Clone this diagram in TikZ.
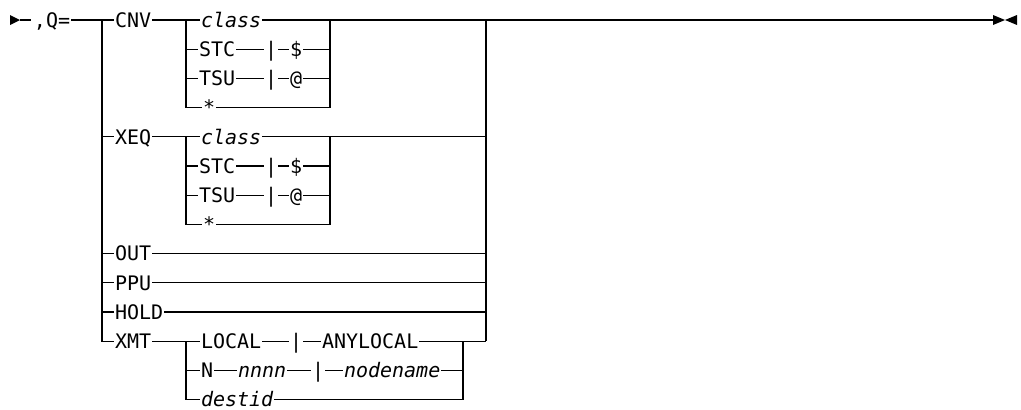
\documentclass[tikz,border=0pt]{standalone}
\usepackage{fontspec}
\newfontfamily\rrfont{DejaVu Sans Mono}[ItalicFont={DejaVu Sans Mono Oblique}]
\begin{document}
\begin{tikzpicture}[x=1pt,y=-1pt,line width=1.3pt,line join=miter,
  lbl/.style={font=\rrfont\fontsize{20}{24}\selectfont,anchor=west,inner xsep=1pt,inner ysep=0pt,text height=14.6pt,text depth=0pt,outer sep=0pt},
  ilbl/.style={lbl,font=\rrfont\fontsize{20}{24}\selectfont\itshape},
  tipfill/.style={fill=black,draw=none}]
\fill[white] (0,0) rectangle (1021,410);
\useasboundingbox (0,0) rectangle (1021,410);
% start
\fill[tipfill] (10,15) -- (20,20) -- (10,25) -- cycle;
\coordinate (s) at (20,20);
\coordinate (s2) at (31,20);
\node[lbl] (q) at (33,20) {,Q=};
\coordinate (L) at (102,20);
\coordinate (Lb) at (102,341.2);
\coordinate (R) at (486,20);
\coordinate (Rb) at (486,341.2);
\coordinate (E) at (993,20);
% main labels
\node[lbl] (cnv) at (114,20) {CNV};
\node[lbl] (xeq) at (114,136.8) {XEQ};
\node[lbl] (out) at (114,253.6) {OUT};
\node[lbl] (ppu) at (114,282.8) {PPU};
\node[lbl] (hold) at (114,312) {HOLD};
\node[lbl] (xmt) at (114,341.2) {XMT};
\draw (s) -- (s2);
\draw (q.east) -- (L);
\draw (L) -- (cnv.west);
\draw (L) -- (Lb) -- (xmt.west);
\foreach \n in {xeq,out,ppu,hold} \draw (L |- \n.west) -- (\n.west);
\foreach \n in {out,ppu,hold} \draw (\n.east) -- (R |- \n.east);
\draw (R) -- (Rb);
% CNV and XEQ sub-branches
\foreach \p/\o in {c/0,x/116.8}{
  \coordinate (\p J0) at (186,20+\o);
  \coordinate (\p J3) at (186,107.6+\o);
  \coordinate (\p K0) at (330,20+\o);
  \coordinate (\p K3) at (330,107.6+\o);
  \node[ilbl] (\p cls) at (200,20+\o) {class};
  \node[lbl] (\p stc) at (198,49.2+\o) {STC};
  \node[lbl] (\p ba) at (264,49.2+\o) {|};
  \node[lbl] (\p dol) at (289,49.2+\o) {\$};
  \node[lbl] (\p tsu) at (198,78.4+\o) {TSU};
  \node[lbl] (\p bb) at (264,78.4+\o) {|};
  \node[lbl] (\p at) at (289,78.4+\o) {@};
  \node[lbl] (\p st) at (202,107.6+\o) {*};
  \draw (\p J0) -- (\p cls.west);
  \draw (\p J0) -- (\p J3) -- (\p st.west);
  \draw (\p J0 |- \p stc.west) -- (\p stc.west);
  \draw (\p J0 |- \p tsu.west) -- (\p tsu.west);
  \draw (\p stc.east) -- (\p ba.west);
  \draw (\p ba.east) -- (\p dol.west);
  \draw (\p dol.east) -- (\p K0 |- \p dol.east);
  \draw (\p tsu.east) -- (\p bb.west);
  \draw (\p bb.east) -- (\p at.west);
  \draw (\p at.east) -- (\p K0 |- \p at.east);
  \draw (\p st.east) -- (\p K3) -- (\p K0);
}
\draw (cnv.east) -- (cJ0);
\draw (xeq.east) -- (xJ0);
\draw (ccls.east) -- (E);
\draw (xcls.east) -- (R |- xcls.east);
% XMT sub-branch
\coordinate (mJ0) at (186,341.2);
\coordinate (mJ2) at (186,399.6);
\coordinate (mK0) at (463,341.2);
\coordinate (mK1) at (463,370.4);
\coordinate (mK2) at (463,399.6);
\node[lbl] (loc) at (200,341.2) {LOCAL};
\node[lbl] (mba) at (289,341.2) {|};
\node[lbl] (any) at (321,341.2) {ANYLOCAL};
\node[lbl] (nn) at (200,370.4) {N};
\node[ilbl] (nnnn) at (237,370.4) {nnnn};
\node[lbl] (mbb) at (311,370.4) {|};
\node[ilbl] (ndn) at (343,370.4) {nodename};
\node[ilbl] (dst) at (200,399.6) {destid};
\draw (xmt.east) -- (loc.west);
\draw (mJ0) -- (mJ2) -- (dst.west);
\draw (mJ0 |- nn.west) -- (nn.west);
\draw (loc.east) -- (mba.west);
\draw (mba.east) -- (any.west);
\draw (any.east) -- (Rb);
\draw (nn.east) -- (nnnn.west);
\draw (nnnn.east) -- (mbb.west);
\draw (mbb.east) -- (ndn.west);
\draw (ndn.east) -- (mK1);
\draw (dst.east) -- (mK2) -- (mK0);
% end
\fill[tipfill] (993,15) -- (1005,20) -- (993,25) -- cycle;
\fill[tipfill] (1017,15) -- (1005,20) -- (1017,25) -- cycle;
\end{tikzpicture}
\end{document}
